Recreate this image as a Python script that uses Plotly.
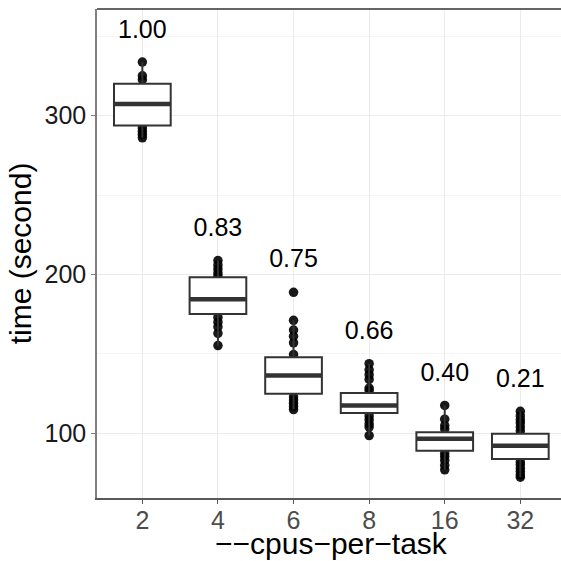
import plotly.graph_objects as go

categories = ["2", "4", "6", "8", "16", "32"]
speedup_labels = ["1.00", "0.83", "0.75", "0.66", "0.40", "0.21"]
x_title = "−−cpus−per−task"
y_title = "time (second)"

q1 = [293.7, 175.2, 125.0, 112.9, 89.1, 83.9]
median = [307.2, 184.4, 136.4, 117.6, 96.7, 92.3]
q3 = [320.0, 198.3, 147.9, 125.5, 100.8, 99.8]
lower_whisker = [286.0, 155.3, 115.0, 98.7, 77.1, 72.5]
upper_whisker = [333.6, 208.8, 171.2, 143.9, 117.6, 113.9]

points = [
    [333.6, 325.0, 322.5, 292.2, 290.0, 288.0, 286.0],
    [208.8, 206.0, 203.5, 201.0, 199.0, 173.0, 170.0, 167.0, 163.0, 155.3],
    [188.8, 171.2, 165.0, 161.1, 157.0, 149.6, 123.0, 121.0, 119.0, 117.0, 115.0],
    [143.9, 140.0, 137.0, 134.0, 128.6, 127.0, 111.0, 108.6, 106.0, 104.0, 98.7],
    [117.6, 109.0, 105.0, 102.8, 87.5, 85.5, 83.0, 80.0, 77.1],
    [113.9, 111.0, 108.6, 106.6, 104.0, 101.5, 82.0, 80.3, 78.0, 76.0, 74.0, 72.5],
]

label_y = [353.0, 228.0, 208.4, 163.6, 137.0, 133.4]

xpos = list(range(len(categories)))
box_width = 0.75

fig = go.Figure()

# points (drawn as a box trace so the real boxes can cover them)
for i, pts in enumerate(points):
    fig.add_trace(go.Box(
        x=[xpos[i]] * len(pts), y=pts,
        boxpoints="all", jitter=0, pointpos=0,
        fillcolor="rgba(0,0,0,0)", line=dict(color="rgba(0,0,0,0)", width=0),
        marker=dict(color="rgba(0,0,0,0.9)", size=9.5),
        width=box_width, showlegend=False, hoverinfo="skip",
    ))

# boxes
fig.add_trace(go.Box(
    x=xpos, q1=q1, median=median, q3=q3,
    lowerfence=lower_whisker, upperfence=upper_whisker,
    boxpoints=False, width=box_width,
    fillcolor="white", line=dict(color="#333333", width=2),
    whiskerwidth=0, showlegend=False,
))

# thick medians
mx, my = [], []
for i, m in enumerate(median):
    mx += [xpos[i] - box_width / 2, xpos[i] + box_width / 2, None]
    my += [m, m, None]
fig.add_trace(go.Scatter(x=mx, y=my, mode="lines",
                         line=dict(color="#333333", width=4.5),
                         showlegend=False, hoverinfo="skip"))

# speedup labels
fig.add_trace(go.Scatter(x=xpos, y=label_y, mode="text", text=speedup_labels,
                         textfont=dict(family="Liberation Sans, Arial", size=25, color="black"),
                         showlegend=False, hoverinfo="skip"))

fig.update_layout(
    width=561, height=561, autosize=False,
    margin=dict(l=97, r=0, t=9, b=63),
    plot_bgcolor="white", paper_bgcolor="white",
    boxmode="overlay",
    font=dict(family="Liberation Sans, Arial"),
    xaxis=dict(
        range=[-0.6, 5.538], tickvals=xpos, ticktext=categories,
        automargin=False,
        showgrid=True, gridcolor="#EBEBEB", gridwidth=1.2,
        zeroline=False, showline=True, linecolor="#595959", linewidth=1.5,
        ticks="outside", ticklen=4, tickcolor="#595959", tickwidth=1,
        ticklabelstandoff=-5,
        tickfont=dict(size=25, color="#4D4D4D"),
    ),
    yaxis=dict(
        range=[59.4, 367.0], tickvals=[100, 200, 300],
        automargin=False,
        showgrid=True, gridcolor="#EBEBEB", gridwidth=1.2,
        minor=dict(tickvals=[150, 250, 350], showgrid=True, gridcolor="#F5F5F5", gridwidth=1),
        zeroline=False, showline=True, linecolor="#7F7F7F", linewidth=1.5,
        ticks="outside", ticklen=4, tickcolor="#7F7F7F", tickwidth=1,
        tickfont=dict(size=25, color="#1A1A1A"),
        title=dict(text=y_title, font=dict(size=30, color="black"), standoff=4),
    ),
    annotations=[dict(text=x_title, xref="paper", yref="paper", x=(0 + 0.6) / 6.138 + 2.5 / 6.138,
                      y=0, xanchor="center", yanchor="middle", yshift=-45, showarrow=False,
                      font=dict(size=30, color="black"))],
    shapes=[dict(type="line", xref="paper", yref="paper", x0=0, x1=1, y0=1, y1=1,
                 line=dict(color="#333333", width=1.5))],
)

post = (
    "document.documentElement.style.margin='0';"
    "document.body.style.margin='0';document.body.style.padding='0';"
    "document.body.style.overflow='hidden';"
    "var gd=document.getElementById('{plot_id}');"
    "Plotly.relayout(gd,{width:561,height:561});"
)
fig.write_html("out.html", config={"responsive": False, "displayModeBar": False}, post_script=post)
